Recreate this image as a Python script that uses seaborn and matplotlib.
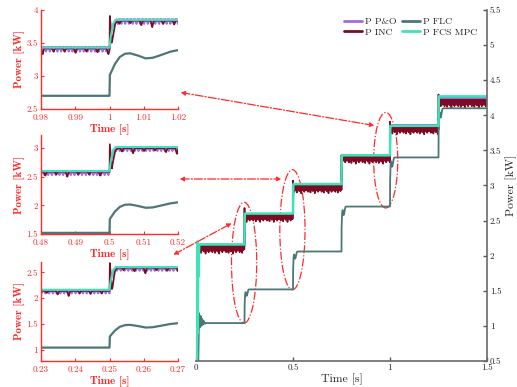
import numpy as np
import matplotlib
matplotlib.use('Agg')
import matplotlib.pyplot as plt
import seaborn as sns
from matplotlib.patches import Ellipse, FancyArrowPatch
from matplotlib.ticker import FuncFormatter

# reference step instants [s] and settled power levels [kW]
step_t = [0.0, 0.25, 0.5, 0.75, 1.0, 1.25]
mpc_lvl = [2.16, 2.60, 3.02, 3.43, 3.85, 4.27]
inc_lvl = [2.14, 2.59, 3.00, 3.42, 3.84, 4.22]
po_lvl = [2.16, 2.60, 3.02, 3.44, 3.86, 4.25]
flc_lvl = [1.04, 1.52, 2.06, 2.70, 3.40, 4.10]

# response right after a step (time after step, fraction of the step)
mpc_dt = [0.0, 0.0003, 0.0010, 0.0018]
mpc_frac = [0.0, 0.35, 0.85, 1.0]
po_dt = [0.0, 0.0004, 0.0012, 0.0020]
po_frac = [0.0, 0.5, 0.9, 1.0]
inc_dt = [0.0, 0.0001, 0.0003, 0.0007, 0.0017, 0.0025]
inc_frac = [0.0, 1.2, 0.9, 0.2, 0.9, 1.0]
flc_dt = [0.0, 0.0001, 0.0015, 0.003, 0.0045, 0.006, 0.008, 0.0105, 0.0125,
          0.015, 0.0175, 0.02, 0.024, 0.03]
flc_frac = [0.0, 0.45, 0.68, 0.84, 0.91, 0.92, 0.88, 0.81, 0.82,
            0.88, 0.95, 0.99, 1.0, 1.0]

# start-up transients (t, P)
mpc0_t = [0.0, 0.005, 0.007, 0.009, 0.011, 0.013, 0.016]
mpc0_v = [0.5, 0.5, 2.2, 0.9, 2.1, 1.7, 2.16]
inc0_t = [0.0, 0.002, 0.004, 0.006, 0.009]
inc0_v = [1.88, 2.2, 1.95, 2.15, 2.13]
po0_t = [0.0, 0.003, 0.006, 0.009]
po0_v = [1.95, 2.1, 2.0, 2.16]
flc0_t = [0.0, 0.012, 0.016, 0.02, 0.024, 0.028, 0.032, 0.036, 0.04, 0.045, 0.05]
flc0_v = [0.5, 0.5, 1.18, 0.98, 1.14, 1.0, 1.1, 1.02, 1.07, 1.03, 1.04]

po_wave = [0.0, -0.03, -0.06, -0.07, -0.05, -0.02, 0.0, 0.0, -0.01, -0.03, -0.01]
inc_dip_shape = [-0.1, -0.25, -0.45, -0.7, -0.9, -1.0, -0.8, -0.55, -0.3, -0.15, -0.05]
inc_dips = [0.05, 0.07, 0.05, 0.06, 0.09, 0.05, 0.04, 0.07, 0.10, 0.05, 0.06,
            0.05, 0.08, 0.05, 0.07, 0.11, 0.05, 0.06, 0.07, 0.05, 0.09, 0.05]

colors = {'po': '#a06be0', 'inc': '#7e0b24', 'flc': '#4d7775', 'mpc': '#3ce5b5'}
red = '#ff2a2a'

t = np.round(np.arange(0, 1.5001, 0.0001), 4)
k = np.searchsorted(step_t, t, side='right') - 1


def stepped(levels, dt_prof, frac_prof):
    lv = np.array(levels)
    y = lv[k].copy()
    for i in range(1, len(step_t)):
        m = (t >= step_t[i]) & (t < step_t[i] + dt_prof[-1])
        frac = np.interp(t[m] - step_t[i], dt_prof, frac_prof)
        y[m] = lv[i - 1] + frac * (lv[i] - lv[i - 1])
    return y


def startup(y, t0, v0):
    m = t < t0[-1]
    y[m] = np.interp(t[m], t0, v0)
    return y


# build the signals
mpc = startup(stepped(mpc_lvl, mpc_dt, mpc_frac), mpc0_t, mpc0_v)

po = stepped(po_lvl, po_dt, po_frac) + np.resize(po_wave, len(t))
po = startup(po, po0_t, po0_v)

inc_rip = np.zeros(len(t))
per = 32
for j, s in enumerate(range(8, len(t), per)):
    seg = np.array(inc_dip_shape) * inc_dips[j % len(inc_dips)]
    n = len(inc_rip[s:s + len(seg)])
    inc_rip[s:s + n] = seg[:n]
inc = startup(stepped(inc_lvl, inc_dt, inc_frac) + inc_rip, inc0_t, inc0_v)

flc = startup(stepped(flc_lvl, flc_dt, flc_frac), flc0_t, flc0_v)

series = [('P P&O', po, colors['po']), ('P INC', inc, colors['inc']),
          ('P FLC', flc, colors['flc']), ('P FCS MPC', mpc, colors['mpc'])]

sns.set_theme(style='white')
plt.rcParams['font.family'] = ['cmr10', 'DejaVu Serif']
plt.rcParams['axes.unicode_minus'] = False

fig = plt.figure(figsize=(5.17, 3.87), dpi=100)
W, H = 517.0, 387.0


def fig_box(x0, y0, x1, y1):
    return [x0 / W, 1 - y1 / H, (x1 - x0) / W, (y1 - y0) / H]


fmt = FuncFormatter(lambda v, p: '%g' % v)

# main axes
ax = fig.add_axes(fig_box(196, 10, 487, 361))
lw_main = {'P P&O': 1.0, 'P INC': 1.2, 'P FLC': 1.3, 'P FCS MPC': 1.8}
for name, y, c in series:
    sns.lineplot(x=t, y=y, ax=ax, color=c, lw=lw_main[name], label=name,
                 estimator=None, sort=False)
ax.set_xlim(0, 1.5)
ax.set_ylim(0.5, 5.5)
ax.set_xticks([0, 0.5, 1, 1.5])
ax.set_yticks(np.arange(0.5, 5.51, 0.5))
ax.xaxis.set_major_formatter(fmt)
ax.yaxis.set_major_formatter(fmt)
ax.yaxis.tick_right()
ax.yaxis.set_label_position('right')
for sp in ['left', 'top']:
    ax.spines[sp].set_visible(False)
for sp in ['bottom', 'right']:
    ax.spines[sp].set_color('#6a6a6a')
    ax.spines[sp].set_linewidth(1.2)
ax.tick_params(axis='both', direction='in', length=3, width=1, color='#555555',
               labelsize=6.5, pad=2, labelcolor='#222222')
ax.tick_params(axis='x', bottom=True)
ax.tick_params(axis='y', right=True, left=False)
ax.set_xlabel('Time [s]', fontsize=8.5, labelpad=1)
ax.set_ylabel('Power [kW]', fontsize=8.5, labelpad=3)
leg = ax.legend(loc='upper right', bbox_to_anchor=(0.985, 0.995), ncol=2, frameon=False,
                fontsize=7, handlelength=1.8, handletextpad=0.3, columnspacing=0.6,
                labelspacing=0.15, borderaxespad=0.2)
for h in leg.get_lines():
    h.set_linewidth(2.0)

# dash-dot ellipses around the zoomed steps
ell = [(0.248, 1.90, 0.130, 1.72), (0.497, 2.37, 0.130, 1.71), (0.978, 3.36, 0.124, 1.36)]
for cx, cy, ew, eh in ell:
    ax.add_patch(Ellipse((cx, cy), ew, eh, fill=False, ec=red, lw=0.9, ls='-.'))

# zoom insets
insets = [
    (fig_box(41, 10, 178, 109), (0.98, 1.02), (2.5, 4.0), [2.5, 3, 3.5, 4]),
    (fig_box(41, 135, 178, 234), (0.48, 0.52), (1.5, 3.23), [1.5, 2, 2.5, 3]),
    (fig_box(41, 262, 178, 361), (0.23, 0.27), (0.78, 2.7), [1, 1.5, 2, 2.5]),
]
lw_in = {'P P&O': 1.4, 'P INC': 1.2, 'P FLC': 1.6, 'P FCS MPC': 1.5}
for box, xl, yl, yt in insets:
    ia = fig.add_axes(box)
    m = (t >= xl[0] - 0.001) & (t <= xl[1] + 0.001)
    for name, y, c in series:
        sns.lineplot(x=t[m], y=y[m], ax=ia, color=c, lw=lw_in[name],
                     estimator=None, sort=False)
    ia.set_xlim(*xl)
    ia.set_ylim(*yl)
    ia.set_xticks(np.linspace(xl[0], xl[1], 5))
    ia.set_yticks(yt)
    ia.xaxis.set_major_formatter(fmt)
    ia.yaxis.set_major_formatter(fmt)
    for sp in ['top', 'right']:
        ia.spines[sp].set_visible(False)
    for sp in ['left', 'bottom']:
        ia.spines[sp].set_color(red)
        ia.spines[sp].set_linewidth(1.0)
    ia.tick_params(axis='both', direction='in', length=2.5, width=0.8, color=red,
                   labelcolor=red, labelsize=6.5, pad=2)
    ia.tick_params(axis='x', bottom=True, pad=3.5)
    ia.tick_params(axis='y', left=True)
    ia.set_xlabel('Time [s]', fontsize=8, family='cmb10', color=red, labelpad=1)
    ia.set_ylabel('Power [kW]', fontsize=8, family='cmb10', color=red, labelpad=2)
    ia.patch.set_alpha(0)

# double-headed dash-dot arrows linking insets to ellipses (figure pixels)
arrows = [((178, 92), (377, 126)), ((177, 179), (284, 179)), ((171, 256), (234, 222))]
for (x0, y0), (x1, y1) in arrows:
    fig.add_artist(FancyArrowPatch((x0 / W, 1 - y0 / H), (x1 / W, 1 - y1 / H),
                                   transform=fig.transFigure, arrowstyle='<|-|>',
                                   mutation_scale=6, color=red, lw=0.9, ls='-.'))

fig.savefig('out.png', dpi=100)
